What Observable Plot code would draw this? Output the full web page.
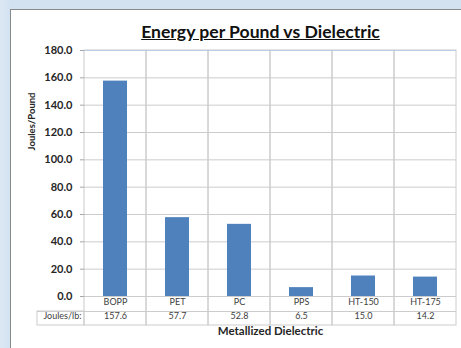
<!DOCTYPE html>
<html>
<head>
<meta charset="utf-8">
<script src="https://cdn.jsdelivr.net/npm/d3@7"></script>
<script src="https://cdn.jsdelivr.net/npm/@observablehq/plot@0.6"></script>
<style>
  html, body { margin: 0; padding: 0; }
  body { background: #d3e2f1; width: 461px; height: 348px; overflow: hidden; }
  #wrap { position: relative; width: 461px; height: 348px; overflow: hidden;
          background: linear-gradient(to right, #dce8f4 0px, #d3e2f1 10px); }
  #panel { position: absolute; left: 10px; top: 9px; width: 470px; height: 360px;
           background: #fff; border: 1px solid #8a8a8a; }
  #title { position: absolute; left: 260.5px; top: 22px; transform: translateX(-50%);
           font: bold 17.6px Lato, sans-serif; line-height: 19px; text-decoration: underline;
           color: #111; white-space: nowrap; }
  #chart { position: absolute; left: 0; top: 0; }
</style>
</head>
<body>
<div id="wrap">
  <div id="panel"></div>
  <div id="title">Energy per Pound vs Dielectric</div>
  <div id="chart"></div>
</div>
<script>
const categories = ["BOPP", "PET", "PC", "PPS", "HT-150", "HT-175"];
const joulesPerLb = [157.6, 57.7, 52.8, 6.5, 15.0, 14.2];
const yTicks = [0, 20, 40, 60, 80, 100, 120, 140, 160, 180];
const rowLabel = "Joules/lb:";
const yTitle = "Joules/Pound";
const xTitle = "Metallized Dielectric";

const rows = categories.map((c, i) => ({category: c, value: joulesPerLb[i]}));
const gridColor = "#cccccc";

const chart = Plot.plot({
  width: 461,
  height: 348,
  marginLeft: 84,
  marginRight: 5,
  marginTop: 50,
  marginBottom: 52,
  style: {fontFamily: "Lato, sans-serif", background: "transparent", overflow: "visible"},
  x: {domain: categories, padding: 0, axis: null},
  y: {domain: [0, 180], axis: null},
  marks: [
    Plot.gridY(yTicks, {stroke: gridColor, strokeOpacity: 1}),
    Plot.cell(categories, {x: d => d, stroke: gridColor, fill: "none", insetBottom: -29}),
    Plot.ruleY([180], {stroke: "#b9cde5"}),
    Plot.ruleY([0], {dy: 15, stroke: gridColor, insetLeft: -47}),
    Plot.rect([0], {insetLeft: -47, insetRight: 372, insetTop: 261, insetBottom: -29, stroke: gridColor, fill: "none"}),
    Plot.barY(rows, {x: "category", y: "value", fill: "#4f81bd", insetLeft: 19, insetRight: 19}),
    Plot.axisY({ticks: yTicks, tickFormat: d => d.toFixed(1), tickSize: 4, tickPadding: 8,
                stroke: "#a6a6a6", fill: "#262626", fontWeight: "bold", fontSize: 11, label: null}),
    Plot.text(categories, {x: d => d, text: d => d, frameAnchor: "bottom", dy: 8, fontSize: 9, fill: "#404040"}),
    Plot.text(rows, {x: "category", text: d => d.value.toFixed(1), frameAnchor: "bottom", dy: 22, fontSize: 9, fill: "#404040"}),
    Plot.text([rowLabel], {text: d => d, frameAnchor: "bottom-left", dx: -3, dy: 22, textAnchor: "end", fontSize: 9, fill: "#404040"}),
    Plot.text([yTitle], {text: d => d, frameAnchor: "left", rotate: -90, dx: -53, dy: -23, fontWeight: "bold", fontSize: 9.5, fill: "#262626"}),
    Plot.text([xTitle], {text: d => d, frameAnchor: "bottom", dy: 38, fontWeight: "bold", fontSize: 11.5, fill: "#262626"})
  ]
});
document.getElementById("chart").appendChild(chart);
</script>
</body>
</html>
